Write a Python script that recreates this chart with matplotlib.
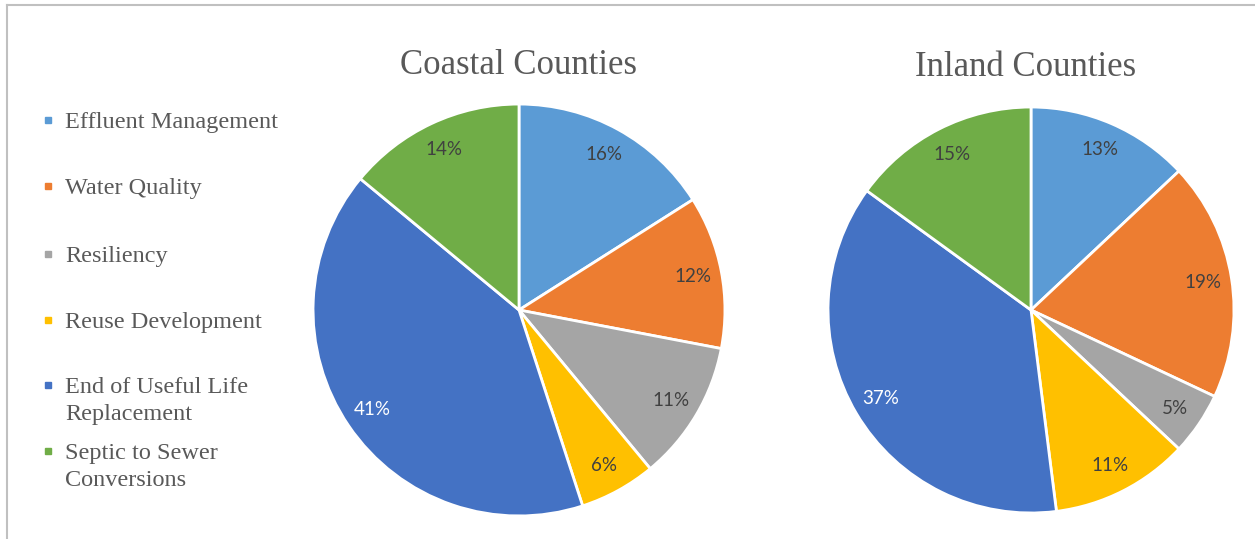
import matplotlib.pyplot as plt
from matplotlib.lines import Line2D

# Data
categories = ['Effluent Management', 'Water Quality', 'Resiliency',
              'Reuse Development', 'End of Useful Life\nReplacement',
              'Septic to Sewer\nConversions']
coastal = [16, 12, 11, 6, 41, 14]
inland = [13, 19, 5, 11, 37, 15]
colors = ['#5B9BD5', '#ED7D31', '#A5A5A5', '#FFC000', '#4472C4', '#70AD47']

W, H = 1255, 539
fig = plt.figure(figsize=(W / 100, H / 100), dpi=100)
fig.patch.set_facecolor('white')

# frame lines of the sheet
fig.add_artist(Line2D([7 / W, 1], [1 - 5 / H, 1 - 5 / H], color='#C0C0C0', lw=1.5))
fig.add_artist(Line2D([7 / W, 7 / W], [0, 1 - 5 / H], color='#C0C0C0', lw=1.5))


def draw_pie(cx, cy, r, values, title, tx, ty):
	ax = fig.add_axes([(cx - r) / W, 1 - (cy + r) / H, 2 * r / W, 2 * r / H])
	wedges, texts, autotexts = ax.pie(
		values, colors=colors, startangle=90, counterclock=False,
		autopct='%d%%', pctdistance=0.86,
		wedgeprops=dict(edgecolor='white', linewidth=2))
	for i, t in enumerate(autotexts):
		t.set_fontfamily('Lato')
		t.set_fontsize(13.5)
		t.set_color('white' if i == 4 else '#404040')
	ax.set_xlim(-1.01, 1.01)
	ax.set_ylim(-1.01, 1.01)
	fig.text(tx / W, 1 - ty / H, title, ha='center', va='center',
			 fontfamily='Liberation Serif', fontsize=25, color='#595959')


draw_pie(519, 310, 208, coastal, 'Coastal Counties', 519, 65)
draw_pie(1031, 310, 205, inland, 'Inland Counties', 1026, 67)

# legend on the left
legend_y = [120, 186, 254, 320, 385, 451]
for name, col, y in zip(categories, colors, legend_y):
	fig.patches.append(plt.Rectangle((45 / W, 1 - (y + 3) / H), 6 / W, 6 / H,
									 transform=fig.transFigure, color=col))
	fig.text(65 / W, 1 - (y - 8) / H, name, ha='left', va='top',
			 fontfamily='Liberation Serif', fontsize=17.5, color='#595959',
			 linespacing=1.35)

fig.savefig('out.png', dpi=100, facecolor='white')
